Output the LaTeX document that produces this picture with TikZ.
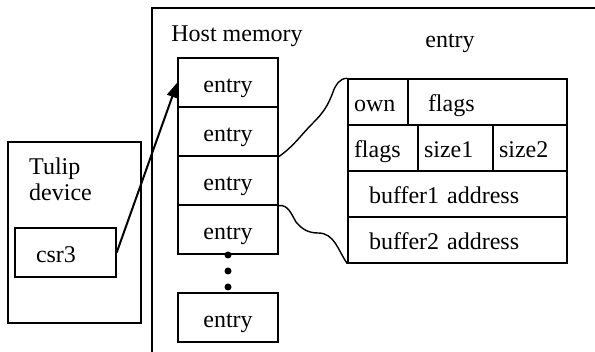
\documentclass[tikz,border=0pt]{standalone}
\usepackage{fontspec}
\setmainfont{Liberation Serif}
\usetikzlibrary{arrows.meta}
\tikzset{
  frame/.style = {draw, rectangle, line width=1.4pt, inner sep=0pt},
  entry/.style = {draw, rectangle, line width=1.4pt, minimum width=100pt,
                  minimum height=49pt, inner sep=0pt,
                  text height=22pt, text depth=2pt},
  cell/.style  = {draw, rectangle, line width=1.4pt, minimum height=46pt,
                  align=left, inner xsep=6pt, inner ysep=0pt,
                  text height=22pt, text depth=2pt},
  txt/.style   = {inner sep=0pt},
  ptr/.style   = {-{Triangle[length=15pt,width=11pt]}, line width=2pt},
  squig/.style = {line width=1.4pt},
  dot/.style   = {circle, fill, inner sep=0pt, minimum size=7pt}
}

\begin{document}
\begin{tikzpicture}[x=1pt, y=-1pt, font=\fontsize{24}{26}\selectfont]
\useasboundingbox (0,0) rectangle (595,352);

% ---------- host memory frame (runs off right and bottom) ----------
\node[frame, minimum width=470pt, minimum height=380pt] (host) at (387,198) {};
\node[txt] (hostlbl) at (237,36) {Host memory};

% ---------- descriptor ring ----------
\foreach \i in {1,...,4} {
  \pgfmathsetmacro\y{82.5+49*(\i-1)}
  \node[entry] (e\i) at (228,\y) {entry};
}
\node[dot] (d1) at (228,255) {};
\node[dot] (d2) at (228,271) {};
\node[dot] (d3) at (228,287) {};
\node[entry] (elast) at (228,317.5) {entry};

% ---------- tulip device ----------
\node[frame, minimum width=133pt, minimum height=181pt] (dev) at (74.5,232.5) {};
\node[txt, anchor=north west, align=left] (devlbl) at (29,158) {Tulip\\device};
\node[entry, minimum width=101pt, text width=59pt, align=left,
      inner xsep=21pt] (csr) at (65.5,252.5) {csr3};

\draw[ptr] (csr.east) -- (e1.west);

% ---------- one entry, blown up ----------
\node[txt] (entrylbl) at (450,43) {entry};

\node[cell, text width=48pt] (own) at (378,102) {own};
\node[cell, inner xsep=20pt, text width=119pt] (flg1) at (487.5,102) {flags};

\node[cell, text width=58pt] (flg2) at (383,148) {flags};
\node[cell, text width=63pt] (sza) at (455.5,148) {size1};
\node[cell, text width=62pt] (szb) at (530,148) {size2};

\node[cell, inner xsep=21pt, text width=177pt] (bufa) at (457.5,194) {buffer1 address};
\node[cell, inner xsep=21pt, text width=177pt] (bufb) at (457.5,240) {buffer2 address};

% hand drawn zoom lines
\draw[squig] (e2.south east) to[out=35,in=-135] (313,123)
             to[out=45,in=-110] (333,92) to[out=70,in=180] (own.north west);
\draw[squig] (e3.south east) to[out=10,in=120] (296,222)
             to[out=-50,in=180] (318,233) to[out=0,in=125] (bufb.south west);

\end{tikzpicture}
\end{document}
